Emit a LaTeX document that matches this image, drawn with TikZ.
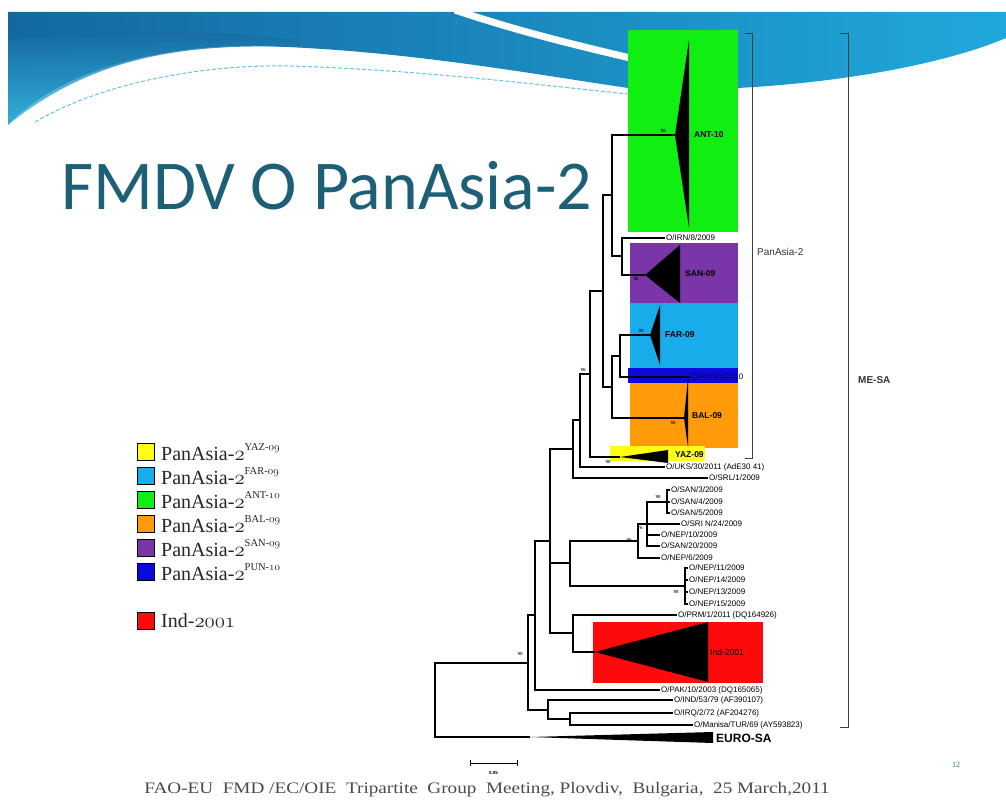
\documentclass[tikz,border=0pt]{standalone}
\usepackage{fontspec}
\setmainfont{Liberation Serif}
\newfontfamily\carlito{Carlito}
\newfontfamily\lsans{Liberation Sans}
\newcommand\osn[1]{{\usefont{OML}{cmm}{m}{it}#1}}
\definecolor{titleteal}{HTML}{1E5F78}
\definecolor{bandL}{HTML}{1468A0}
\definecolor{bandR}{HTML}{20A8DA}
\definecolor{bandLow}{HTML}{3CC0E6}
\definecolor{antgreen}{HTML}{11EE11}
\definecolor{sanpurple}{HTML}{7A35A8}
\definecolor{farcyan}{HTML}{18ACEA}
\definecolor{punblue}{HTML}{0A0ADD}
\definecolor{balorange}{HTML}{FF9A0A}
\definecolor{yazyellow}{HTML}{FFFF10}
\definecolor{indred}{HTML}{FF0A0A}
\definecolor{footgray}{HTML}{4A4A4A}
\definecolor{pagenum}{HTML}{2A6A8A}
\begin{document}
\begin{tikzpicture}[x=1pt,y=-1pt,
  br/.style={line width=1.2pt},
  leaf/.style={font=\lsans\fontsize{8}{8.5}\selectfont, anchor=west, inner sep=1pt},
  boot/.style={font=\lsans\fontsize{4.5}{5}\selectfont, inner sep=0pt},
  cladelab/.style={font=\lsans\bfseries\fontsize{8.5}{9}\selectfont, anchor=west, inner sep=0pt},
  legbox/.style={draw=black, line width=1pt, minimum size=17pt, inner sep=0pt},
  legtext/.style={font=\fontsize{20}{22}\selectfont, anchor=west, inner sep=0pt, text=black!85},
  bracketlab/.style={font=\lsans\fontsize{10}{11}\selectfont, anchor=west, inner sep=0pt, text=black!80}]
\useasboundingbox (0,0) rectangle (1006,805);
\fill[white] (0,0) rectangle (1006,805);
% banner
\shade[left color=bandL, right color=bandR] (8,12) -- (1006,12) -- (1006,38)
  .. controls (950,62) and (850,82) .. (738,88) -- (628,88)
  .. controls (520,72) and (400,50) .. (260,46)
  .. controls (160,44) and (60,70) .. (8,125) -- cycle;
\shade[top color=bandL, bottom color=bandLow, opacity=0.8] (8,40)
  .. controls (80,30) and (200,28) .. (300,40) -- (300,47)
  .. controls (200,44) and (100,50) .. (8,125) -- cycle;
\draw[white, line width=7pt] (455,10) .. controls (520,32) and (580,46) .. (630,58);
\draw[bandR!70, line width=1pt, dash pattern=on 4pt off 2pt] (35,122) .. controls (100,84) and (200,64) .. (290,66) .. controls (420,70) and (530,84) .. (628,94);
% title
\node[font=\carlito\fontsize{70}{72}\selectfont, text=titleteal, anchor=base west, inner sep=0pt] (title) at (61,209) {FMDV O PanAsia-2};
% clade boxes
\fill[antgreen] (628,30) rectangle (738,232);
\fill[sanpurple] (630,243) rectangle (738,303);
\fill[farcyan] (630,303) rectangle (738,368);
\fill[punblue] (628,368) rectangle (738,383);
\fill[balorange] (630,383) rectangle (738,448);
\fill[yazyellow] (610,446) rectangle (705,461);
\fill[indred] (593,622) rectangle (763,683);
% leaves and internal nodes
\coordinate (ant) at (675,135);
\coordinate (irn) at (665,238);
\coordinate (san) at (645,275);
\coordinate (far) at (650,335);
\coordinate (pun) at (690,377);
\coordinate (bal) at (684,418);
\coordinate (yaz) at (620,457);
\coordinate (uks) at (665,467);
\coordinate (srl) at (708,478);
\coordinate (n1) at (622,256);
\coordinate (p1) at (612,195);
\coordinate (fp) at (620,356);
\coordinate (fpb) at (612,387);
\coordinate (h) at (603,291);
\coordinate (pa) at (590,374);
\coordinate (u) at (580,420);
\coordinate (u2) at (573,449);
\coordinate (san3) at (670,490);
\coordinate (san4) at (670,502);
\coordinate (san5) at (670,513);
\coordinate (sri) at (680,524);
\coordinate (nep10) at (660,535);
\coordinate (san20) at (660,546);
\coordinate (nep6) at (660,558);
\coordinate (nep11) at (688,568);
\coordinate (nep14) at (688,580);
\coordinate (nep13) at (688,592);
\coordinate (nep15) at (688,604);
\coordinate (prm) at (677,615);
\coordinate (ind) at (595,652);
\coordinate (pak) at (660,690);
\coordinate (indl) at (673,700);
\coordinate (ro) at (673,713);
\coordinate (man) at (693,725);
\coordinate (euro) at (530,737);
\coordinate (s3) at (667,502);
\coordinate (s2) at (647,524);
\coordinate (s1) at (638,541);
\coordinate (n11) at (685,586);
\coordinate (ne) at (570,563);
\coordinate (ig) at (573,633);
\coordinate (m) at (550,541);
\coordinate (k) at (535,615);
\coordinate (l2) at (570,719);
\coordinate (l1) at (548,710);
\coordinate (j) at (528,663);
\coordinate (root) at (435,700);
% branches
\foreach \p/\c in {n1/irn,n1/san,p1/ant,p1/n1,fp/far,fp/pun,fpb/fp,fpb/bal,h/p1,h/fpb,
  pa/h,pa/yaz,u/pa,u/uks,u2/u,u2/srl,
  s3/san3,s3/san4,s3/san5,s2/s3,s2/sri,s2/nep10,s2/san20,s1/s2,s1/nep6,
  n11/nep11,n11/nep14,n11/nep13,n11/nep15,ne/s1,ne/n11,ig/prm,ig/ind,
  m/u2,m/ne,m/ig,k/m,k/pak,l2/ro,l2/man,l1/indl,l1/l2,j/k,j/l1,root/j,root/euro}
  \draw[br] (\p) |- (\c);
% collapsed clades
\fill (ant) -- (689,40) -- (689,228) -- cycle;
\fill (san) -- (680,245) -- (680,303) -- cycle;
\fill (far) -- (660,305) -- (660,365) -- cycle;
\fill (bal) -- (688,378) -- (688,447) -- cycle;
\fill (yaz) -- (668,450) -- (668,463) -- cycle;
\fill (ind) -- (708,622) -- (708,682) -- cycle;
\fill (euro) -- (713,732) -- (713,743) -- (620,740) -- cycle;
% clade labels
\node[cladelab] (lANT) at (694,135) {ANT-10};
\node[cladelab] (lSAN) at (685,274) {SAN-09};
\node[cladelab] (lFAR) at (665,335) {FAR-09};
\node[cladelab] (lBAL) at (692,416) {BAL-09};
\node[cladelab] (lYAZ) at (675,455) {YAZ-09};
\node[font=\lsans\fontsize{8.5}{9}\selectfont, anchor=west, inner sep=0pt] (lIND) at (710,652) {Ind-2001};
\node[font=\lsans\bfseries\fontsize{12}{13}\selectfont, anchor=west, inner sep=0pt] (lEURO) at (716,738) {EURO-SA};
% leaf labels
\node[leaf] at (irn) {O/IRN/8/2009};
\node[leaf, text=punblue!40!black] at (pun) {O/PUN/1/2010};
\node[leaf] at (uks) {O/UKS/30/2011 (AdE30 41)};
\node[leaf] at (srl) {O/SRL/1/2009};
\node[leaf] at (san3) {O/SAN/3/2009};
\node[leaf] at (san4) {O/SAN/4/2009};
\node[leaf] at (san5) {O/SAN/5/2009};
\node[leaf] at (sri) {O/SRI N/24/2009};
\node[leaf] at (nep10) {O/NEP/10/2009};
\node[leaf] at (san20) {O/SAN/20/2009};
\node[leaf] at (nep6) {O/NEP/6/2009};
\node[leaf] at (nep11) {O/NEP/11/2009};
\node[leaf] at (nep14) {O/NEP/14/2009};
\node[leaf] at (nep13) {O/NEP/13/2009};
\node[leaf] at (nep15) {O/NEP/15/2009};
\node[leaf] at (prm) {O/PRM/1/2011 (DQ164926)};
\node[leaf] at (pak) {O/PAK/10/2003 (DQ165065)};
\node[leaf] at (indl) {O/IND/53/79 (AF390107)};
\node[leaf] at (ro) {O/IRQ/2/72 (AF204276)};
\node[leaf] at (man) {O/Manisa/TUR/69 (AY593823)};
% bootstrap values
\node[boot] at (663,131) {98};
\node[boot] at (636,279) {96};
\node[boot] at (641,331) {98};
\node[boot] at (673,423) {96};
\node[boot] at (608,462) {98};
\node[boot] at (583,370) {96};
\node[boot] at (658,497) {98};
\node[boot] at (640,528) {76};
\node[boot] at (629,540) {86};
\node[boot] at (676,592) {98};
\node[boot] at (520,654) {98};
% brackets
\draw[line width=0.8pt, black!75] (745,33) -- (752,33) -- (752,458) -- (745,458);
\node[bracketlab] (lPA) at (757,252) {PanAsia-2};
\draw[line width=0.8pt, black!75] (840,33) -- (848,33) -- (848,727) -- (840,727);
\node[bracketlab, font=\lsans\bfseries\fontsize{10}{11}\selectfont] (lME) at (858,380) {ME-SA};
% scale bar
\draw[line width=0.8pt] (470,760) -- (470,766) (470,763) -- (517,763) (517,760) -- (517,766);
\node[font=\lsans\bfseries\fontsize{4.5}{5}\selectfont, inner sep=0pt] (scl) at (493.5,773) {0.05};
% page number
\node[font=\fontsize{8}{9}\selectfont, text=pagenum, inner sep=0pt] (pg) at (956,765) {12};
% legend
\node[legbox, fill=yazyellow] (k1) at (146,452) {};
\node[legbox, fill=farcyan] (k2) at (146,476) {};
\node[legbox, fill=antgreen] (k3) at (146,500) {};
\node[legbox, fill=balorange] (k4) at (146,524) {};
\node[legbox, fill=sanpurple] (k5) at (146,548) {};
\node[legbox, fill=punblue] (k6) at (146,572) {};
\node[legbox, fill=indred] (k7) at (146,621) {};
\newcommand\legsup[1]{\raisebox{0.5em}{\fontsize{10.5}{11}\selectfont #1}}
\node[legtext] (t1) at (161,452) {PanAsia-\osn{2}\legsup{YAZ-\osn{09}}};
\node[legtext] (t2) at (161,476) {PanAsia-\osn{2}\legsup{FAR-\osn{09}}};
\node[legtext] (t3) at (161,500) {PanAsia-\osn{2}\legsup{ANT-\osn{10}}};
\node[legtext] (t4) at (161,524) {PanAsia-\osn{2}\legsup{BAL-\osn{09}}};
\node[legtext] (t5) at (161,548) {PanAsia-\osn{2}\legsup{SAN-\osn{09}}};
\node[legtext] (t6) at (161,572) {PanAsia-\osn{2}\legsup{PUN-\osn{10}}};
\node[legtext] (t7) at (161,621) {Ind-\osn{2001}};
% footer
\node[font=\fontsize{16}{17}\selectfont, text=footgray, inner sep=0pt] (foot) at (487,790)
  {\scalebox{1.2}[1]{FAO-EU\ \ FMD /EC/OIE\ \ Tripartite\ \ Group\ \ Meeting,\ Plovdiv,\ \ Bulgaria,\ \ 25 March,2011}};
\end{tikzpicture}
\end{document}
